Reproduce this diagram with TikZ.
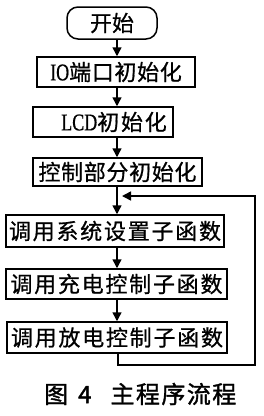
\documentclass[tikz,border=0pt]{standalone}
\usepackage{fontspec}
\newfontfamily\cjka[FakeBold=0.8]{Noto Sans CJK SC}
\newfontfamily\cjkb[LetterSpace=3,FakeBold=0.8]{Noto Sans CJK SC}
\newfontfamily\cjkd[LetterSpace=8,FakeBold=0.8]{Noto Sans CJK SC}
\newfontfamily\cjkc[LetterSpace=8,FakeBold=0.8]{Noto Sans CJK SC}
\newfontfamily\cjkcap[LetterSpace=6,FakeBold=1.4]{Noto Sans CJK SC}
\newfontfamily\lat[FakeBold=0.6,FakeStretch=0.75]{Liberation Serif}
\newcommand\latin[1]{{\lat\fontsize{24}{24}\selectfont #1}}
\usetikzlibrary{arrows.meta}
\tikzset{
  box/.style={draw, line width=1.5pt, inner sep=0pt},
  fa/.style={font=\cjka\fontsize{22}{22}\selectfont},
  fb/.style={font=\cjkb\fontsize{22}{22}\selectfont},
  fd/.style={font=\cjkd\fontsize{22}{22}\selectfont},
  fc/.style={font=\cjkc\fontsize{22}{22}\selectfont},
  arr/.style={line width=1.5pt, -{Triangle[length=9pt,width=9pt]}},
}
\begin{document}
\begin{tikzpicture}[x=1pt,y=-1pt]
\useasboundingbox[fill=white] (0,0) rectangle (264,416);
\node[box, fa, rounded corners=11pt, minimum width=90pt, minimum height=32pt] (start) at (112,23) {开始};
\node[box, fb, minimum width=158pt, minimum height=30pt] (io) at (116,72) {\latin{IO}端口初始化\hspace{-1pt}};
\node[box, fd, minimum width=140pt, minimum height=30pt] (lcd) at (103,122) {\hspace{22pt}\latin{LCD}初始化\hspace{-2pt}};
\node[box, fb, minimum width=169pt, minimum height=28pt] (ctrl) at (117.5,172) {控制部分初始化\hspace{-1pt}};
\node[box, fc, minimum width=218pt, minimum height=32pt] (sys) at (115,231) {调用系统设置子函数\hspace{-2pt}};
\node[box, fc, minimum width=221pt, minimum height=30pt] (chg) at (116.5,284) {调用充电控制子函数\hspace{-2pt}};
\node[box, fc, minimum width=220pt, minimum height=31pt] (dis) at (117,337.5) {调用放电控制子函数\hspace{-2pt}};
\node[font=\cjkcap\fontsize{24}{24}\selectfont, anchor=west, inner sep=0pt] (cap) at (44,394) {图\hspace{10pt}4\hspace{19pt}主程序流程};
\coordinate (spine) at (117,0);
\coordinate (join) at (117,196);
\coordinate (bl) at (118,365);
\coordinate (br) at (255,365);
\coordinate (tr) at (255,196);
\draw[arr] (start.south -| spine) -- (io.north -| spine);
\draw[arr] (io.south -| spine) -- (lcd.north -| spine);
\draw[arr] (lcd.south -| spine) -- (ctrl.north -| spine);
\draw[arr] (ctrl.south -| spine) -- (sys.north -| spine);
\draw[arr] (sys.south -| spine) -- (chg.north -| spine);
\draw[arr] (chg.south -| spine) -- (dis.north -| spine);
\draw[arr] (dis.south -| bl) -- (bl) -- (br) -- (tr) -- ([xshift=5pt]join);
\end{tikzpicture}
\end{document}
